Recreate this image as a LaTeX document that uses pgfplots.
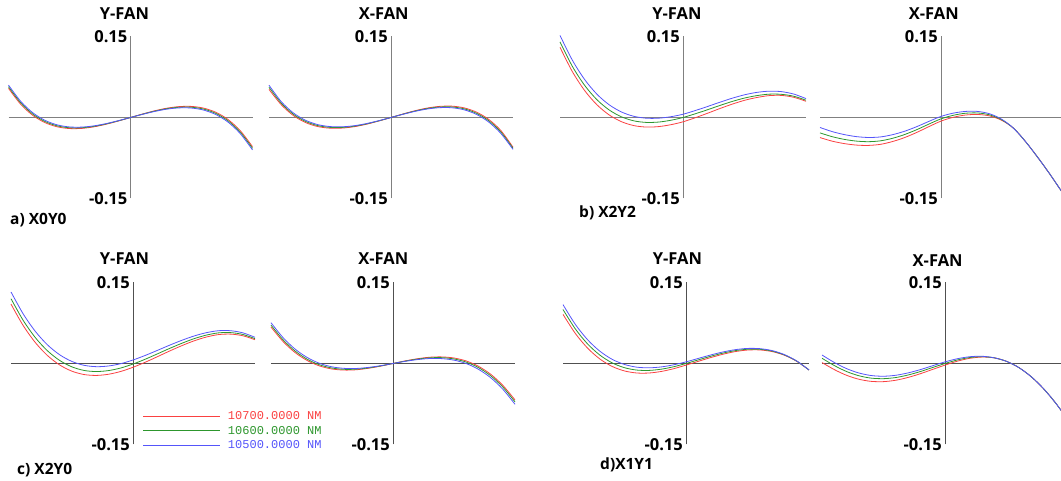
\documentclass[border=0pt]{standalone}
\usepackage{pgfplots}
\pgfplotsset{compat=1.18}
\usepackage{pgfplotstable}
\usepackage{fontspec}
\setmainfont{Open Sans}
\newfontfamily\monofont{Liberation Mono}
\definecolor{cr}{RGB}{250,65,65}
\definecolor{cg}{RGB}{45,150,45}
\definecolor{cb}{RGB}{85,85,250}
\definecolor{axtop}{RGB}{128,128,128}
\definecolor{axbot}{RGB}{80,80,80}
\newcommand\lab{\bfseries\fontsize{16.5}{19}\selectfont}
\newcommand\plab{\bfseries\fontsize{15.5}{18}\selectfont}

% x = normalized pupil, r = 10700 nm, g = 10600 nm, b = 10500 nm
\pgfplotstableread{
x r g b
-1.0 0.0540 0.0570 0.0600
-0.9 0.0245 0.0272 0.0299
-0.8 0.0038 0.0062 0.0086
-0.7 -0.0096 -0.0075 -0.0054
-0.6 -0.0173 -0.0155 -0.0137
-0.5 -0.0205 -0.0190 -0.0175
-0.4 -0.0202 -0.0190 -0.0178
-0.3 -0.0173 -0.0164 -0.0155
-0.2 -0.0125 -0.0119 -0.0113
-0.1 -0.0065 -0.0062 -0.0059
0.0 0.0000 0.0000 0.0000
0.1 0.0065 0.0062 0.0059
0.2 0.0125 0.0119 0.0113
0.3 0.0173 0.0164 0.0155
0.4 0.0202 0.0190 0.0178
0.5 0.0205 0.0190 0.0175
0.6 0.0173 0.0155 0.0137
0.7 0.0096 0.0075 0.0054
0.8 -0.0038 -0.0062 -0.0086
0.9 -0.0245 -0.0272 -0.0299
1.0 -0.0540 -0.0570 -0.0600
}\tAY

\pgfplotstableread{
x r g b
-1.0 0.0520 0.0560 0.0598
-0.9 0.0238 0.0266 0.0294
-0.8 0.0036 0.0060 0.0084
-0.7 -0.0094 -0.0073 -0.0052
-0.6 -0.0168 -0.0150 -0.0132
-0.5 -0.0198 -0.0183 -0.0168
-0.4 -0.0196 -0.0184 -0.0172
-0.3 -0.0170 -0.0161 -0.0152
-0.2 -0.0124 -0.0118 -0.0112
-0.1 -0.0065 -0.0062 -0.0059
0.0 0.0000 0.0000 0.0000
0.1 0.0066 0.0063 0.0060
0.2 0.0127 0.0121 0.0115
0.3 0.0176 0.0167 0.0158
0.4 0.0206 0.0194 0.0182
0.5 0.0210 0.0195 0.0180
0.6 0.0178 0.0160 0.0142
0.7 0.0100 0.0079 0.0058
0.8 -0.0034 -0.0058 -0.0082
0.9 -0.0240 -0.0267 -0.0294
1.0 -0.0550 -0.0570 -0.0590
}\tAX

\pgfplotstableread{
x r g b
-1.0 0.1300 0.1400 0.1520
-0.9 0.0851 0.0949 0.1063
-0.8 0.0500 0.0596 0.0704
-0.7 0.0236 0.0330 0.0432
-0.6 0.0047 0.0139 0.0235
-0.5 -0.0078 0.0012 0.0102
-0.4 -0.0150 -0.0062 0.0022
-0.3 -0.0177 -0.0091 -0.0013
-0.2 -0.0169 -0.0085 -0.0013
-0.1 -0.0134 -0.0052 0.0014
0.0 -0.0080 0.0000 0.0060
0.1 -0.0004 0.0069 0.0129
0.2 0.0079 0.0144 0.0204
0.3 0.0166 0.0223 0.0283
0.4 0.0247 0.0297 0.0357
0.5 0.0318 0.0360 0.0420
0.6 0.0370 0.0405 0.0465
0.7 0.0405 0.0432 0.0487
0.8 0.0409 0.0429 0.0479
0.9 0.0374 0.0394 0.0434
1.0 0.0300 0.0320 0.0350
}\tBY

\pgfplotstableread{
x r g b
-1.0 -0.0372 -0.0285 -0.0185
-0.9 -0.0438 -0.0355 -0.0261
-0.8 -0.0483 -0.0405 -0.0316
-0.7 -0.0511 -0.0437 -0.0354
-0.6 -0.0517 -0.0448 -0.0370
-0.5 -0.0497 -0.0432 -0.0360
-0.4 -0.0445 -0.0385 -0.0318
-0.3 -0.0371 -0.0315 -0.0254
-0.2 -0.0276 -0.0225 -0.0169
-0.1 -0.0169 -0.0122 -0.0072
0.0 -0.0067 -0.0025 0.0020
0.1 0.0003 0.0040 0.0080
0.2 0.0045 0.0078 0.0112
0.3 0.0056 0.0084 0.0113
0.4 0.0030 0.0050 0.0070
0.5 -0.0050 -0.0040 -0.0030
0.6 -0.0200 -0.0200 -0.0200
0.7 -0.0450 -0.0450 -0.0450
0.8 -0.0740 -0.0740 -0.0740
0.9 -0.1050 -0.1050 -0.1050
1.0 -0.1380 -0.1380 -0.1380
}\tBX

\pgfplotstableread{
x r g b
-1.0 0.1100 0.1200 0.1325
-0.9 0.0702 0.0798 0.0918
-0.8 0.0386 0.0478 0.0593
-0.7 0.0145 0.0233 0.0343
-0.6 -0.0029 0.0055 0.0160
-0.5 -0.0143 -0.0063 0.0037
-0.4 -0.0205 -0.0129 -0.0034
-0.3 -0.0221 -0.0149 -0.0059
-0.2 -0.0199 -0.0131 -0.0046
-0.1 -0.0147 -0.0083 -0.0003
0.0 -0.0070 -0.0010 0.0065
0.1 0.0023 0.0079 0.0149
0.2 0.0126 0.0178 0.0243
0.3 0.0231 0.0279 0.0339
0.4 0.0330 0.0374 0.0429
0.5 0.0419 0.0459 0.0509
0.6 0.0489 0.0525 0.0570
0.7 0.0535 0.0567 0.0607
0.8 0.0544 0.0572 0.0607
0.9 0.0514 0.0538 0.0568
1.0 0.0440 0.0460 0.0485
}\tCY

\pgfplotstableread{
x r g b
-1.0 0.0675 0.0710 0.0755
-0.9 0.0404 0.0435 0.0476
-0.8 0.0198 0.0226 0.0262
-0.7 0.0051 0.0075 0.0107
-0.6 -0.0047 -0.0026 0.0001
-0.5 -0.0102 -0.0084 -0.0062
-0.4 -0.0122 -0.0108 -0.0090
-0.3 -0.0116 -0.0105 -0.0092
-0.2 -0.0088 -0.0081 -0.0072
-0.1 -0.0048 -0.0044 -0.0040
0.0 0.0000 0.0000 0.0000
0.1 0.0048 0.0044 0.0040
0.2 0.0088 0.0081 0.0072
0.3 0.0116 0.0105 0.0092
0.4 0.0122 0.0108 0.0090
0.5 0.0102 0.0084 0.0062
0.6 0.0047 0.0026 -0.0001
0.7 -0.0051 -0.0075 -0.0107
0.8 -0.0198 -0.0226 -0.0262
0.9 -0.0404 -0.0435 -0.0476
1.0 -0.0675 -0.0710 -0.0755
}\tCX

\pgfplotstableread{
x r g b
-1.0 0.0910 0.1000 0.1090
-0.9 0.0557 0.0641 0.0725
-0.8 0.0284 0.0362 0.0440
-0.7 0.0083 0.0155 0.0227
-0.6 -0.0055 0.0011 0.0077
-0.5 -0.0138 -0.0078 -0.0018
-0.4 -0.0176 -0.0122 -0.0068
-0.3 -0.0176 -0.0128 -0.0080
-0.2 -0.0147 -0.0105 -0.0063
-0.1 -0.0096 -0.0060 -0.0024
0.0 -0.0030 0.0000 0.0030
0.1 0.0040 0.0067 0.0094
0.2 0.0109 0.0133 0.0157
0.3 0.0171 0.0192 0.0213
0.4 0.0220 0.0238 0.0256
0.5 0.0249 0.0264 0.0279
0.6 0.0251 0.0263 0.0275
0.7 0.0221 0.0230 0.0239
0.8 0.0153 0.0159 0.0165
0.9 0.0041 0.0044 0.0047
1.0 -0.0120 -0.0120 -0.0120
}\tDY

\pgfplotstableread{
x r g b
-1.0 0.0017 0.0097 0.0157
-0.9 -0.0113 -0.0038 0.0019
-0.8 -0.0219 -0.0149 -0.0095
-0.7 -0.0292 -0.0227 -0.0176
-0.6 -0.0331 -0.0271 -0.0223
-0.5 -0.0336 -0.0281 -0.0236
-0.4 -0.0310 -0.0260 -0.0218
-0.3 -0.0258 -0.0213 -0.0174
-0.2 -0.0189 -0.0149 -0.0113
-0.1 -0.0109 -0.0074 -0.0041
0.0 -0.0030 0.0000 0.0030
0.1 0.0043 0.0065 0.0088
0.2 0.0095 0.0110 0.0125
0.3 0.0119 0.0126 0.0134
0.4 0.0105 0.0105 0.0105
0.5 0.0040 0.0040 0.0040
0.6 -0.0075 -0.0075 -0.0075
0.7 -0.0243 -0.0243 -0.0243
0.8 -0.0464 -0.0464 -0.0464
0.9 -0.0734 -0.0734 -0.0734
1.0 -0.1048 -0.1048 -0.1048
}\tDX

\tikzset{
  pr/.style={draw=cr, line width=0.8pt, smooth},
  pg/.style={draw=cg, line width=0.8pt, smooth},
  pb/.style={draw=cb, line width=0.8pt, smooth},
}
\pgfplotsset{
  fan/.style={
    scale only axis, height=162pt,
    xmin=-1, xmax=1, ymin=-0.15, ymax=0.15,
    axis lines=middle,
    axis line style={-, line width=1pt},
    xtick=\empty, ytick={-0.15,0.15}, yticklabels={{-0.15},{0.15}},
    major tick length=0pt,
    yticklabel style={font=\lab, anchor=east, inner sep=0pt, xshift=-3pt},
    clip=false, anchor=origin,
  },
  top/.style={axis line style={draw=axtop}},
  bot/.style={axis line style={draw=axbot}},
}

\begin{document}
\begin{tikzpicture}
% ---------- a) X0Y0
\begin{axis}[fan, top, width=244pt, at={(130.5pt,363.5pt)}]
\addplot[pr] table[x=x,y=r]{\tAY};
\addplot[pg] table[x=x,y=g]{\tAY};
\addplot[pb] table[x=x,y=b]{\tAY};
\node[font=\lab, yshift=23pt] at (axis cs:-0.05,0.15) {Y-FAN};
\end{axis}
\begin{axis}[fan, top, width=244pt, at={(391pt,363.5pt)}]
\addplot[pr] table[x=x,y=r]{\tAX};
\addplot[pg] table[x=x,y=g]{\tAX};
\addplot[pb] table[x=x,y=b]{\tAX};
\node[font=\lab, yshift=23pt] at (axis cs:-0.06,0.15) {X-FAN};
\end{axis}
% ---------- b) X2Y2
\begin{axis}[fan, top, width=246pt, at={(683pt,363.5pt)}]
\addplot[pr] table[x=x,y=r]{\tBY};
\addplot[pg] table[x=x,y=g]{\tBY};
\addplot[pb] table[x=x,y=b]{\tBY};
\node[font=\lab, yshift=23pt] at (axis cs:-0.05,0.15) {Y-FAN};
\end{axis}
\begin{axis}[fan, top, width=242pt, at={(941pt,363.5pt)}]
\addplot[pr] table[x=x,y=r]{\tBX};
\addplot[pg] table[x=x,y=g]{\tBX};
\addplot[pb] table[x=x,y=b]{\tBX};
\node[font=\lab, yshift=23pt] at (axis cs:-0.06,0.15) {X-FAN};
\end{axis}
% ---------- c) X2Y0
\begin{axis}[fan, bot, width=244pt, at={(133pt,117.5pt)},
  legend style={draw=none, fill=none, at={(0.54,0.215)}, anchor=north west,
    font=\monofont\fontsize{12}{13}\selectfont, row sep=0.8pt, column sep=5pt, inner sep=0pt},
  legend cell align=left,
  legend image code/.code={\draw[#1, line width=1pt] (0pt,0pt) -- (77pt,0pt);}]
\addplot[pr] table[x=x,y=r]{\tCY};
\addlegendentry[text=cr]{10700.0000 NM}
\addplot[pg] table[x=x,y=g]{\tCY};
\addlegendentry[text=cg]{10600.0000 NM}
\addplot[pb] table[x=x,y=b]{\tCY};
\addlegendentry[text=cb]{10500.0000 NM}
\node[font=\lab, yshift=24pt] at (axis cs:-0.07,0.15) {Y-FAN};
\end{axis}
\begin{axis}[fan, bot, width=244pt, at={(393pt,117.5pt)}]
\addplot[pr] table[x=x,y=r]{\tCX};
\addplot[pg] table[x=x,y=g]{\tCX};
\addplot[pb] table[x=x,y=b]{\tCX};
\node[font=\lab, yshift=24pt] at (axis cs:-0.08,0.15) {X-FAN};
\end{axis}
% ---------- d) X1Y1
\begin{axis}[fan, bot, width=246pt, at={(686pt,117.5pt)}]
\addplot[pr] table[x=x,y=r]{\tDY};
\addplot[pg] table[x=x,y=g]{\tDY};
\addplot[pb] table[x=x,y=b]{\tDY};
\node[font=\lab, yshift=24pt] at (axis cs:-0.07,0.15) {Y-FAN};
\end{axis}
\begin{axis}[fan, bot, width=246pt, at={(945pt,117.5pt)}]
\addplot[pr] table[x=x,y=r]{\tDX};
\addplot[pg] table[x=x,y=g]{\tDX};
\addplot[pb] table[x=x,y=b]{\tDX};
\node[font=\lab, yshift=22pt] at (axis cs:-0.06,0.15) {X-FAN};
\end{axis}
% ---------- panel labels
\node[font=\plab, anchor=west, inner sep=0pt] at (10pt,261pt) {a)\ X0Y0};
\node[font=\plab, anchor=west, inner sep=0pt] at (579pt,268pt) {b)\ X2Y2};
\node[font=\plab, anchor=west, inner sep=0pt] at (17pt,11pt) {c)\ X2Y0};
\node[font=\plab, anchor=west, inner sep=0pt] at (600pt,16pt) {d)X1Y1};
\pgfresetboundingbox
\path[use as bounding box] (0pt,0pt) rectangle (1061pt,481pt);
\end{tikzpicture}
\end{document}
